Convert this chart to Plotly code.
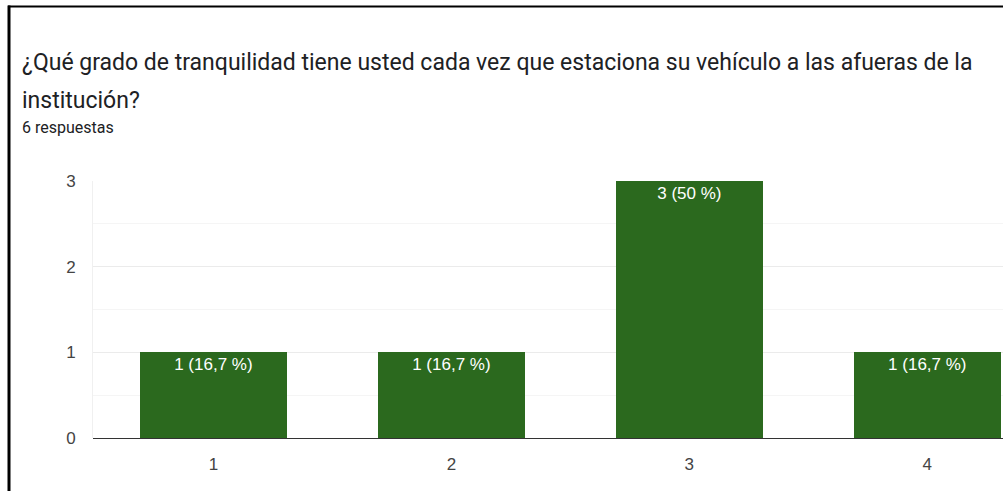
import plotly.graph_objects as go

categories = ["1", "2", "3", "4"]
counts = [1, 1, 3, 1]
pct_labels = ["16,7 %", "16,7 %", "50 %", "16,7 %"]
title_line1 = "¿Qué grado de tranquilidad tiene usted cada vez que estaciona su vehículo a las afueras de la"
title_line2 = "institución?"
subtitle = "6 respuestas"

W, H = 1003, 491
ML, MR, MT, MB = 93, 0, 181, 53
PW, PH = W - ML - MR, H - MT - MB

def px_x(p):
    return (p - ML) / PW

def px_y(p):
    return (H - MB - p) / PH

texts = [f"{c} ({p})" for c, p in zip(counts, pct_labels)]

fig = go.Figure(go.Bar(
    x=list(range(len(categories))), y=counts, text=texts,
    textposition="inside", insidetextanchor="end",
    textfont=dict(family="Liberation Sans, Arial", size=17, color="white"),
    marker=dict(color="#2b691e", line=dict(width=0)),
    width=0.618, hoverinfo="skip",
))

fig.update_layout(
    width=W, height=H,
    margin=dict(l=ML, r=MR, t=MT, b=MB, pad=0),
    paper_bgcolor="white", plot_bgcolor="white",
    showlegend=False,
    xaxis=dict(range=[-0.506, 3.318], tickmode="array",
               tickvals=list(range(len(categories))), ticktext=categories,
               showgrid=False, zeroline=False, showline=False, ticks="",
               ticklabelstandoff=14,
               tickfont=dict(family="Liberation Sans, Arial", size=17, color="#444444"),
               fixedrange=True),
    yaxis=dict(range=[0, 3], tickvals=[0, 1, 2, 3], showgrid=True,
               gridcolor="#ebebeb", gridwidth=1,
               minor=dict(dtick=0.5, showgrid=True, gridcolor="#f5f5f5", gridwidth=1),
               zeroline=True, zerolinecolor="#333333", zerolinewidth=1,
               showline=True, linecolor="#f0f0f0", linewidth=1, mirror=False,
               ticks="", ticklabelstandoff=13,
               tickfont=dict(family="Liberation Sans, Arial", size=17, color="#444444"),
               fixedrange=True),
    bargap=0,
)

fig.add_annotation(xref="paper", yref="paper", x=px_x(20), y=px_y(62),
                   xanchor="left", yanchor="middle", showarrow=False,
                   text=title_line1,
                   font=dict(family="Roboto", size=23, color="#202124"))
fig.add_annotation(xref="paper", yref="paper", x=px_x(20), y=px_y(100),
                   xanchor="left", yanchor="middle", showarrow=False,
                   text=title_line2,
                   font=dict(family="Roboto", size=23, color="#202124"))
fig.add_annotation(xref="paper", yref="paper", x=px_x(20), y=px_y(127),
                   xanchor="left", yanchor="middle", showarrow=False,
                   text=subtitle,
                   font=dict(family="Roboto", size=16, color="#202124"))

# black frame (top and left edges)
fig.add_shape(type="line", xref="paper", yref="paper",
              x0=px_x(8), x1=px_x(W + 5), y0=px_y(6.5), y1=px_y(6.5),
              line=dict(color="black", width=2))
fig.add_shape(type="line", xref="paper", yref="paper",
              x0=px_x(9), x1=px_x(9), y0=px_y(5.5), y1=px_y(H + 5),
              line=dict(color="black", width=3))

fig.write_html("out.html",
               config={"displayModeBar": False, "staticPlot": True},
               post_script="document.body.style.margin='0';document.body.style.overflow='hidden';")
